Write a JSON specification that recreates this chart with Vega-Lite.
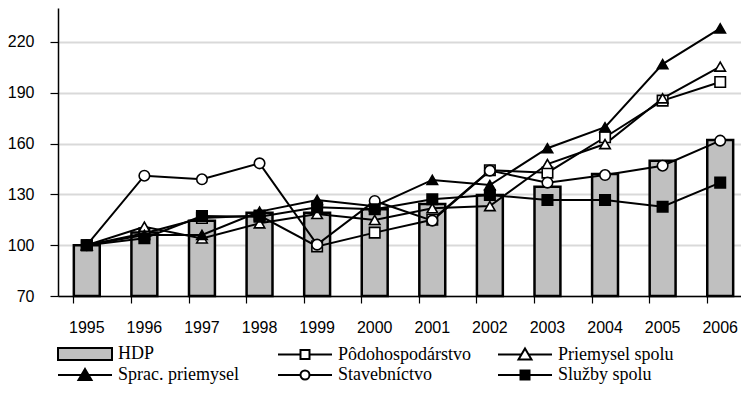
{
  "$schema": "https://vega.github.io/schema/vega-lite/v6.json",
  "width": 691,
  "height": 288,
  "autosize": "none",
  "padding": {"left": 58, "top": 8, "right": 0, "bottom": 105},
  "background": "white",
  "config": {
    "view": {"stroke": null},
    "legend": {"symbolOpacity": 1},
    "axis": {
      "labelFont": "Liberation Sans",
      "labelFontSize": 16,
      "labelColor": "black",
      "domainColor": "black",
      "domainWidth": 1.5,
      "tickColor": "black",
      "tickWidth": 1.2,
      "title": null
    }
  },
  "data": {
    "values": [
      {"year": "1995", "series": "HDP", "value": 100},
      {"year": "1996", "series": "HDP", "value": 107.5},
      {"year": "1997", "series": "HDP", "value": 114.4},
      {"year": "1998", "series": "HDP", "value": 119.2},
      {"year": "1999", "series": "HDP", "value": 119.2},
      {"year": "2000", "series": "HDP", "value": 121.2},
      {"year": "2001", "series": "HDP", "value": 124.3},
      {"year": "2002", "series": "HDP", "value": 129.6},
      {"year": "2003", "series": "HDP", "value": 134.5},
      {"year": "2004", "series": "HDP", "value": 142},
      {"year": "2005", "series": "HDP", "value": 149.9},
      {"year": "2006", "series": "HDP", "value": 162.1},
      {"year": "1995", "series": "Pôdohospodárstvo", "value": 100},
      {"year": "1996", "series": "Pôdohospodárstvo", "value": 107},
      {"year": "1997", "series": "Pôdohospodárstvo", "value": 116},
      {"year": "1998", "series": "Pôdohospodárstvo", "value": 117.5},
      {"year": "1999", "series": "Pôdohospodárstvo", "value": 99.3},
      {"year": "2000", "series": "Pôdohospodárstvo", "value": 107.4},
      {"year": "2001", "series": "Pôdohospodárstvo", "value": 115},
      {"year": "2002", "series": "Pôdohospodárstvo", "value": 144.2},
      {"year": "2003", "series": "Pôdohospodárstvo", "value": 142.8},
      {"year": "2004", "series": "Pôdohospodárstvo", "value": 163.7},
      {"year": "2005", "series": "Pôdohospodárstvo", "value": 185.3},
      {"year": "2006", "series": "Pôdohospodárstvo", "value": 196.3},
      {"year": "1995", "series": "Priemysel spolu", "value": 100},
      {"year": "1996", "series": "Priemysel spolu", "value": 110.9},
      {"year": "1997", "series": "Priemysel spolu", "value": 104},
      {"year": "1998", "series": "Priemysel spolu", "value": 112.9},
      {"year": "1999", "series": "Priemysel spolu", "value": 118.4},
      {"year": "2000", "series": "Priemysel spolu", "value": 114.9},
      {"year": "2001", "series": "Priemysel spolu", "value": 121.8},
      {"year": "2002", "series": "Priemysel spolu", "value": 123.1},
      {"year": "2003", "series": "Priemysel spolu", "value": 147.9},
      {"year": "2004", "series": "Priemysel spolu", "value": 159.7},
      {"year": "2005", "series": "Priemysel spolu", "value": 186.7},
      {"year": "2006", "series": "Priemysel spolu", "value": 205.4},
      {"year": "1995", "series": "Sprac. priemysel", "value": 100},
      {"year": "1996", "series": "Sprac. priemysel", "value": 106},
      {"year": "1997", "series": "Sprac. priemysel", "value": 106},
      {"year": "1998", "series": "Sprac. priemysel", "value": 119.8},
      {"year": "1999", "series": "Sprac. priemysel", "value": 126.7},
      {"year": "2000", "series": "Sprac. priemysel", "value": 123},
      {"year": "2001", "series": "Sprac. priemysel", "value": 138.5},
      {"year": "2002", "series": "Sprac. priemysel", "value": 135.5},
      {"year": "2003", "series": "Sprac. priemysel", "value": 157.2},
      {"year": "2004", "series": "Sprac. priemysel", "value": 169.6},
      {"year": "2005", "series": "Sprac. priemysel", "value": 206.9},
      {"year": "2006", "series": "Sprac. priemysel", "value": 228},
      {"year": "1995", "series": "Stavebníctvo", "value": 100},
      {"year": "1996", "series": "Stavebníctvo", "value": 141},
      {"year": "1997", "series": "Stavebníctvo", "value": 138.9},
      {"year": "1998", "series": "Stavebníctvo", "value": 148.3},
      {"year": "1999", "series": "Stavebníctvo", "value": 100.3},
      {"year": "2000", "series": "Stavebníctvo", "value": 126.1},
      {"year": "2001", "series": "Stavebníctvo", "value": 114.5},
      {"year": "2002", "series": "Stavebníctvo", "value": 144},
      {"year": "2003", "series": "Stavebníctvo", "value": 136.9},
      {"year": "2004", "series": "Stavebníctvo", "value": 141.4},
      {"year": "2005", "series": "Stavebníctvo", "value": 146.9},
      {"year": "2006", "series": "Stavebníctvo", "value": 161.7},
      {"year": "1995", "series": "Služby spolu", "value": 100},
      {"year": "1996", "series": "Služby spolu", "value": 104.1},
      {"year": "1997", "series": "Služby spolu", "value": 117.2},
      {"year": "1998", "series": "Služby spolu", "value": 116.8},
      {"year": "1999", "series": "Služby spolu", "value": 122.4},
      {"year": "2000", "series": "Služby spolu", "value": 121.2},
      {"year": "2001", "series": "Služby spolu", "value": 127.1},
      {"year": "2002", "series": "Služby spolu", "value": 129.6},
      {"year": "2003", "series": "Služby spolu", "value": 126.7},
      {"year": "2004", "series": "Služby spolu", "value": 126.7},
      {"year": "2005", "series": "Služby spolu", "value": 122.7},
      {"year": "2006", "series": "Služby spolu", "value": 136.9}
    ]
  },
  "encoding": {
    "x": {
      "field": "year",
      "type": "ordinal",
      "sort": null,
      "scale": {"paddingInner": 0.55, "paddingOuter": 0.275},
      "axis": {
        "labelAngle": 0,
        "bandPosition": 0,
        "tickSize": 7,
        "labelPadding": 16,
        "grid": false
      }
    },
    "y": {
      "field": "value",
      "type": "quantitative",
      "scale": {"domain": [70, 240], "nice": false, "zero": false},
      "axis": {
        "values": [70, 100, 130, 160, 190, 220],
        "tickSize": 8,
        "labelPadding": 16,
        "grid": true,
        "gridColor": "#d9d9d9",
        "gridWidth": 2
      }
    }
  },
  "layer": [
    {
      "transform": [{"filter": "datum.series === 'HDP'"}],
      "mark": {"type": "bar", "fill": "#c0c0c0", "stroke": "black", "strokeWidth": 2.5},
      "encoding": {"y2": {"datum": 70}}
    },
    {
      "transform": [{"filter": "datum.series !== 'HDP'"}],
      "mark": {"type": "line", "color": "black", "strokeWidth": 2},
      "encoding": {"detail": {"field": "series"}}
    },
    {
      "transform": [{"filter": "datum.series !== 'HDP'"}],
      "mark": {"type": "point", "filled": false, "stroke": "black", "strokeWidth": 1.6, "size": 110, "opacity": 1},
      "encoding": {
        "fill": {
          "condition": {"test": "datum.series === 'Sprac. priemysel' || datum.series === 'Služby spolu'", "value": "black"},
          "value": "white"
        },
        "shape": {
          "field": "series",
          "type": "nominal",
          "scale": {
            "domain": ["Pôdohospodárstvo", "Priemysel spolu", "Sprac. priemysel", "Stavebníctvo", "Služby spolu"],
            "range": ["square", "triangle-up", "triangle-up", "circle", "square"]
          },
          "legend": null
        }
      }
    },
    {
      "mark": {"type": "point", "filled": true, "stroke": "black", "strokeWidth": 2, "opacity": 0},
      "encoding": {
        "color": {
          "field": "series",
          "type": "nominal",
          "scale": {
            "domain": ["HDP", "Pôdohospodárstvo", "Priemysel spolu", "Sprac. priemysel", "Stavebníctvo", "Služby spolu"],
            "range": ["#c0c0c0", "white", "white", "black", "white", "black"]
          },
          "legend": {
            "orient": "bottom",
            "direction": "horizontal",
            "columns": 3,
            "title": null,
            "symbolSize": 400,
            "symbolStrokeWidth": 2,
            "symbolStrokeColor": "black",
            "symbolOpacity": 1,
            "labelOffset": 38,
            "labelFont": "Liberation Serif",
            "labelFontSize": 18,
            "labelColor": "black",
            "labelLimit": 300,
            "gridAlign": "all",
            "columnPadding": 22,
            "rowPadding": -11,
            "offset": 8,
            "encode": {
              "symbols": {
                "update": {
                  "stroke": {"value": "black"},
                  "strokeWidth": {"value": 2}
                }
              }
            }
          }
        },
        "shape": {
          "field": "series",
          "type": "nominal",
          "scale": {
            "domain": ["HDP", "Pôdohospodárstvo", "Priemysel spolu", "Sprac. priemysel", "Stavebníctvo", "Služby spolu"],
            "range": [
              "M-1.1,-0.6H4.3V0.6H-1.1Z",
              "M-1.1,0H1.15M2.05,0H4.3M1.15,-0.45H2.05V0.45H1.15Z",
              "M-1.1,0H1.27M1.93,0H4.3M1.6,-0.6L2.25,0.5H0.95Z",
              "M-1.1,0H1.27M1.93,0H4.3M1.6,-0.6L2.25,0.5H0.95Z",
              "M-1.1,0H1.15M2.05,0H4.3M2.05,0A0.45,0.45,0,1,1,1.15,0A0.45,0.45,0,1,1,2.05,0Z",
              "M-1.1,0H1.15M2.05,0H4.3M1.15,-0.45H2.05V0.45H1.15Z"
            ]
          },
          "legend": {
            "orient": "bottom",
            "direction": "horizontal",
            "columns": 3,
            "title": null,
            "symbolSize": 400,
            "symbolStrokeWidth": 2,
            "symbolStrokeColor": "black",
            "symbolOpacity": 1,
            "labelOffset": 38,
            "labelFont": "Liberation Serif",
            "labelFontSize": 18,
            "labelColor": "black",
            "labelLimit": 300,
            "gridAlign": "all",
            "columnPadding": 22,
            "rowPadding": -11,
            "offset": 8
          }
        }
      }
    }
  ],
  "resolve": {"scale": {"shape": "independent", "color": "independent"}}
}
